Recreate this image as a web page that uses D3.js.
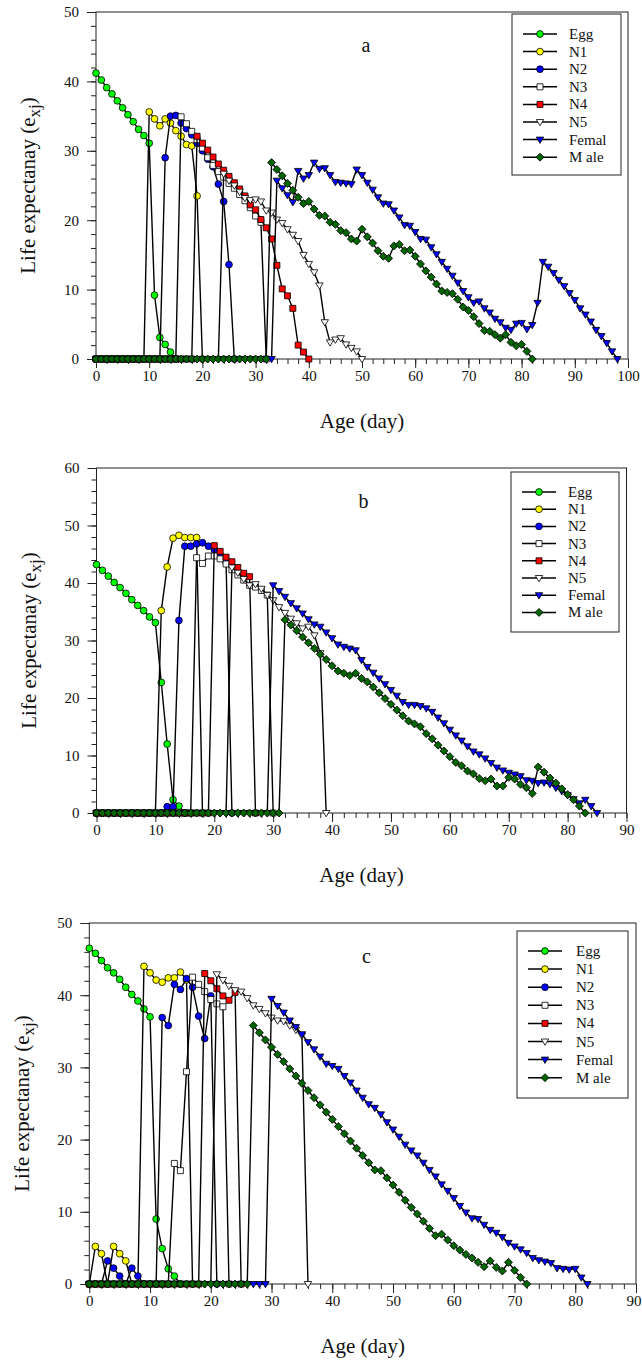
<!DOCTYPE html>
<html>
<head>
<meta charset="utf-8">
<script src="https://cdn.jsdelivr.net/npm/d3@7"></script>
<style>
  body { margin: 0; background: #fff; }
  svg text { font-family: "Liberation Serif", "Times New Roman", serif; fill: #111; }
</style>
</head>
<body>
<svg id="chart" width="642" height="1363"></svg>
<script>
// legend names, in drawing order
const seriesNames = ["Egg", "N1", "N2", "N3", "N4", "N5", "Femal", "M ale"];

// tick labels
const xTicksA = [0, 10, 20, 30, 40, 50, 60, 70, 80, 90, 100];
const xTicksBC = [0, 10, 20, 30, 40, 50, 60, 70, 80, 90];
const yTicksA = [0, 10, 20, 30, 40, 50];
const yTicksB = [0, 10, 20, 30, 40, 50, 60];
const yTicksC = [0, 10, 20, 30, 40, 50];

// life expectancy per age (day 0, 1, 2, ...) -- panel a
const eggA = [41.2,40.2,39.1,38.2,37.2,36.2,35.2,34.2,33.1,32.2,31.1,9.2,3.1,2.1,1.0,0];
const n1A = [0,0,0,0,0,0,0,0,0,0,
  35.6,34.6,33.6,34.6,34.0,32.9,32.1,30.9,30.7,23.5,0];
const n2A = [0,0,0,0,0,0,0,0,0,0, 0,0,0,
  29.0,35.0,35.1,34.0,33.2,32.3,31.1,30.0,28.8,27.7,25.2,22.7,13.6,0];
const n3A = [0,0,0,0,0,0,0,0,0,0, 0,0,0,0,0,0,
  34.9,33.9,32.8,31.6,30.4,29.0,27.9,27.0,26.2,25.3,24.6,23.7,22.8,21.8,20.6,19.7,0];
const n4A = [0,0,0,0,0,0,0,0,0,0, 0,0,0,0,0,0,0,0,0,
  32.1,31.1,30.1,29.1,28.1,27.2,26.3,25.4,24.5,23.5,22.2,21.5,20.1,18.9,17.3,13.5,10.1,9.1,7.3,2.0,1.0,0];
const n5A = [0,0,0,0,0,0,0,0,0,0, 0,0,0,0,0,0,0,0,0,0, 0,0,0,0,
  26.7,25.7,25.0,24.1,23.2,22.9,23.0,22.7,21.4,21.1,20.1,19.6,18.7,17.9,17.0,15.0,13.7,12.5,10.6,5.3,
  2.4,2.8,3.0,2.1,1.6,1.1,0];
const femA = [0,0,0,0,0,0,0,0,0,0, 0,0,0,0,0,0,0,0,0,0, 0,0,0,0,0,0,0,0,0,0, 0,0,0,0,
  25.7,24.6,23.6,22.6,27.1,26.0,26.5,28.3,27.4,27.5,26.5,25.5,25.4,25.3,25.2,27.3,
  26.5,25.4,24.4,23.3,22.4,22.3,21.4,20.4,19.3,19.2,18.3,17.3,17.2,16.1,15.1,14.0,
  13.0,12.0,11.0,9.8,8.9,8.1,8.3,7.3,6.7,5.8,5.3,4.5,4.2,5.1,5.2,4.3,4.9,8.1,
  14.0,13.3,12.4,11.4,10.5,9.5,8.5,7.3,6.4,5.4,4.2,3.3,2.3,1.1,0];
const maleA = [0,0,0,0,0,0,0,0,0,0, 0,0,0,0,0,0,0,0,0,0, 0,0,0,0,0,0,0,0,0,0, 0,0,0,
  28.3,27.3,26.4,25.3,24.3,23.3,22.4,22.7,21.6,20.7,20.6,19.7,19.4,18.5,18.2,17.3,17.0,
  18.7,17.6,16.7,15.6,14.8,14.5,16.3,16.5,15.6,15.7,14.8,13.7,12.7,11.8,10.8,9.8,9.6,9.4,
  8.6,7.5,7.0,6.1,5.1,4.1,4.0,3.5,3.0,3.5,2.4,1.9,2.1,1.1,0];

// panel b
const eggB = [43.2,42.2,41.2,40.1,39.2,38.2,37.1,36.1,35.2,34.1,33.1,22.7,12.0,2.3,1.2,0];
const n1B = [0,0,0,0,0,0,0,0,0,0, 0,
  35.2,42.8,47.8,48.3,47.9,47.9,47.9,0];
const n2B = [0,0,0,0,0,0,0,0,0,0, 0,0,
  1.1,1.1,33.5,46.4,46.4,46.8,47.0,46.4,45.8,44.7,43.6,0];
const n3B = [0,0,0,0,0,0,0,0,0,0, 0,0,0,0,0,0,0,
  44.4,43.4,44.7,44.7,44.2,43.3,42.3,41.4,40.5,39.6,39.3,38.7,37.9,0];
const n4B = [0,0,0,0,0,0,0,0,0,0, 0,0,0,0,0,0,0,0,0,0,
  46.5,45.5,44.5,43.7,42.7,41.7,41.1,0];
const n5B = [0,0,0,0,0,0,0,0,0,0, 0,0,0,0,0,0,0,0,0,0, 0,0,0,
  42.7,41.8,40.7,39.6,39.8,39.0,37.9,37.0,35.8,34.8,33.8,33.0,32.1,32.4,30.9,27.8,0];
const femB = [0,0,0,0,0,0,0,0,0,0, 0,0,0,0,0,0,0,0,0,0, 0,0,0,0,0,0,0,0,0,0,
  39.6,38.6,37.6,36.5,35.6,34.7,33.7,32.8,32.4,31.4,30.4,29.3,28.9,28.6,28.3,26.6,
  25.4,24.4,23.4,22.4,21.4,20.4,19.3,18.8,18.8,18.6,18.2,17.6,16.6,15.6,14.5,13.5,
  12.6,11.6,10.7,10.2,9.5,8.7,7.9,7.4,7.0,6.7,6.4,5.7,5.6,5.2,5.3,5.0,4.4,3.8,
  3.1,2.4,1.7,2.3,1.2,0];
const maleB = [0,0,0,0,0,0,0,0,0,0, 0,0,0,0,0,0,0,0,0,0, 0,0,0,0,0,0,0,0,0,0, 0,0,
  33.6,32.7,31.7,30.6,29.6,28.6,27.6,26.7,25.6,24.7,24.3,23.9,24.3,23.4,22.8,21.9,
  20.9,19.9,18.9,17.9,16.9,16.0,15.5,15.0,13.8,12.9,11.8,10.8,9.8,8.8,8.2,7.3,
  6.8,6.0,5.6,5.9,4.7,4.7,6.2,5.9,5.0,4.4,3.4,8.0,7.1,6.1,5.2,4.2,3.2,2.3,1.2,0];

// panel c
const eggC = [46.5,45.8,44.8,43.8,43.1,42.2,41.1,40.1,39.2,38.1,37.0,9.0,4.9,2.1,1.1,0];
const n1C = [0,5.2,4.2,0,5.2,4.2,3.2,0,0,44.0,43.1,42.1,41.8,42.4,42.4,43.2,42.1,0];
const n2C = [0,0,0,3.2,2.2,1.1,0,2.2,1.1,0,0,0,36.9,35.8,41.5,40.8,42.3,41.1,37.1,34.0,39.9,0];
const n3C = [0,0,0,0,0,0,0,0,0,0, 0,0,0,0,
  16.7,15.7,29.4,42.5,41.5,40.5,39.4,38.8,38.4,0];
const n4C = [0,0,0,0,0,0,0,0,0,0, 0,0,0,0,0,0,0,0,0,
  43.0,42.0,40.9,39.9,39.3,40.4,0];
const n5C = [0,0,0,0,0,0,0,0,0,0, 0,0,0,0,0,0,0,0,0,0, 0,
  42.9,42.1,41.3,40.7,40.5,39.6,38.6,38.1,37.5,36.9,36.5,36.4,35.8,35.2,34.4,0];
const femC = [0,0,0,0,0,0,0,0,0,0, 0,0,0,0,0,0,0,0,0,0, 0,0,0,0,0,0,0,0,0,0,
  39.5,38.5,37.6,36.5,35.6,34.6,33.5,32.5,31.5,30.5,30.2,29.8,28.8,27.9,26.8,25.8,
  24.9,24.4,23.5,22.4,21.4,20.4,19.3,18.5,17.8,16.8,15.8,14.9,13.8,12.9,11.9,10.8,
  9.9,9.1,9.0,8.2,7.5,7.1,6.5,5.7,5.2,4.8,4.3,3.6,3.3,3.1,2.9,2.2,2.1,2.0,2.1,0.9,0];
const maleC = [0,0,0,0,0,0,0,0,0,0, 0,0,0,0,0,0,0,0,0,0, 0,0,0,0,0,0,0,
  35.8,34.8,33.8,32.8,31.8,30.8,29.8,28.8,27.8,26.8,25.8,24.8,23.8,22.8,21.8,20.8,
  19.8,18.8,17.8,16.8,15.8,15.7,14.7,13.7,12.7,11.6,10.6,9.7,8.7,7.7,6.7,6.9,
  6.1,5.3,4.7,4.1,3.6,3.0,2.4,3.2,2.3,1.8,3.0,1.9,0.9,0];

// marker look per series
const markerFill = ["#00ff00", "#ffff00", "#0000ff", "#ffffff", "#ff0000", "#ffffff", "#0000ff", "#006400"];
const markerShape = ["circle", "circle", "circle", "square", "square", "tri", "tri", "diamond"];

const shapes = {
  circle: d3.symbol(d3.symbolCircle, 36)(),
  square: "M-3,-3H3V3H-3Z",
  tri: "M-3.7,-2.5L3.7,-2.5L0,3.8Z",
  diamond: "M0,-4L4,0L0,4L-4,0Z"
};

const panels = [
  { letter: "a", xMax: 100, xTicks: xTicksA, yTicks: yTicksA,
    series: [eggA, n1A, n2A, n3A, n4A, n5A, femA, maleA],
    left: 96, right: 628, top: 12, bottom: 359, titleX: 35,
    letterPos: [366, 52],
    legend: { x: 512, y: 14, w: 109, h: 161, first: 20, step: 17.6, l0: 11, tx: 57 } },
  { letter: "b", xMax: 90, xTicks: xTicksBC, yTicks: yTicksB,
    series: [eggB, n1B, n2B, n3B, n4B, n5B, femB, maleB],
    left: 96.5, right: 626.5, top: 468, bottom: 813, titleX: 35.5,
    letterPos: [363.5, 508],
    legend: { x: 511, y: 472, w: 108, h: 160, first: 20, step: 17.2, l0: 11, tx: 57 } },
  { letter: "c", xMax: 90, xTicks: xTicksBC, yTicks: yTicksC,
    series: [eggC, n1C, n2C, n3C, n4C, n5C, femC, maleC],
    left: 89.3, right: 636, top: 923, bottom: 1284, titleX: 28.5,
    letterPos: [366.5, 963],
    legend: { x: 517, y: 931, w: 111, h: 167, first: 20, step: 18.1, l0: 11, tx: 59 } }
];

const svg = d3.select("#chart");
const W = +svg.attr("width");

panels.forEach(p => {
  const yMax = p.yTicks[p.yTicks.length - 1];
  const x = d3.scaleLinear().domain([0, p.xMax]).range([p.left, p.right]);
  const y = d3.scaleLinear().domain([0, yMax]).range([p.bottom, p.top]);
  const g = svg.append("g");

  // minor ticks every 2 units
  g.append("g")
    .attr("transform", `translate(0,${p.bottom})`)
    .call(d3.axisBottom(x).tickValues(d3.range(0, p.xMax + 1, 2)).tickSize(5).tickFormat(""))
    .call(a => a.select(".domain").remove());
  g.append("g")
    .attr("transform", `translate(${p.left},0)`)
    .call(d3.axisLeft(y).tickValues(d3.range(0, yMax + 1, 2)).tickSize(5).tickFormat(""))
    .call(a => a.select(".domain").remove());

  // major ticks + labels
  g.append("g")
    .attr("transform", `translate(0,${p.bottom})`)
    .call(d3.axisBottom(x).tickValues(p.xTicks).tickSize(9).tickPadding(2))
    .call(a => a.select(".domain").remove())
    .call(a => a.selectAll("text").style("font-size", "15px").attr("fill", "#111"))
    // keep the last label inside the page
    .call(a => a.selectAll("text").each(function(d) {
      const right = x(d) + this.getComputedTextLength() / 2;
      if (right > W - 1) d3.select(this).attr("x", W - 1 - right);
    }));
  g.append("g")
    .attr("transform", `translate(${p.left},0)`)
    .call(d3.axisLeft(y).tickValues(p.yTicks).tickSize(9).tickPadding(8))
    .call(a => a.select(".domain").remove())
    .call(a => a.selectAll("text").style("font-size", "15px").attr("fill", "#111"));

  g.selectAll(".tick line").attr("stroke", "#222");

  // frame
  g.append("rect")
    .attr("x", p.left).attr("y", p.top)
    .attr("width", p.right - p.left).attr("height", p.bottom - p.top)
    .attr("fill", "none").attr("stroke", "#222").attr("stroke-width", 1);

  // titles
  g.append("text")
    .attr("x", (p.left + p.right) / 2).attr("y", p.bottom + 69)
    .attr("text-anchor", "middle").style("font-size", "21px")
    .text("Age (day)");

  const yt = g.append("text")
    .attr("transform", `translate(${p.titleX},${(p.top + p.bottom) / 2}) rotate(-90)`)
    .attr("text-anchor", "middle").style("font-size", "21px");
  yt.append("tspan").text("Life expectanay (e");
  yt.append("tspan").attr("dy", 5).style("font-size", "17px").text("xj");
  yt.append("tspan").attr("dy", -5).text(")");

  g.append("text")
    .attr("x", p.letterPos[0]).attr("y", p.letterPos[1])
    .attr("text-anchor", "middle").style("font-size", "20px")
    .text(p.letter);

  // series: line first, then its markers
  const line = d3.line().x(d => x(d[0])).y(d => y(d[1]));
  p.series.forEach((vals, i) => {
    const pts = vals.map((v, age) => [age, v]);
    g.append("path").datum(pts)
      .attr("d", line)
      .attr("fill", "none").attr("stroke", "#000").attr("stroke-width", 1.4);
    g.append("g").selectAll("path").data(pts).join("path")
      .attr("transform", d => `translate(${x(d[0])},${y(d[1])})`)
      .attr("d", shapes[markerShape[i]])
      .attr("fill", markerFill[i]).attr("stroke", "#000").attr("stroke-width", 0.8);
  });

  // legend
  const L = p.legend;
  const lg = g.append("g").attr("transform", `translate(${L.x},${L.y})`);
  lg.append("rect").attr("width", L.w).attr("height", L.h)
    .attr("fill", "#fff").attr("stroke", "#222").attr("stroke-width", 1);
  seriesNames.forEach((name, i) => {
    const ry = L.first + i * L.step;
    lg.append("line").attr("x1", L.l0).attr("x2", L.l0 + 34).attr("y1", ry).attr("y2", ry)
      .attr("stroke", "#000").attr("stroke-width", 1.5);
    lg.append("path").attr("transform", `translate(${L.l0 + 17},${ry})`)
      .attr("d", shapes[markerShape[i]])
      .attr("fill", markerFill[i]).attr("stroke", "#000").attr("stroke-width", 0.8);
    lg.append("text").attr("x", L.tx).attr("y", ry + 5)
      .style("font-size", "15px").text(name);
  });
});
</script>
</body>
</html>
